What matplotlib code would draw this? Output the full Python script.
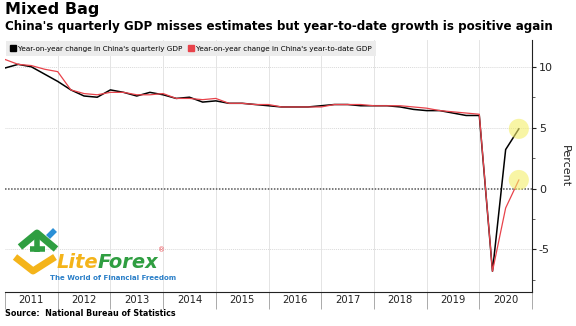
import numpy as np
import matplotlib
matplotlib.use("Agg")
import matplotlib.pyplot as plt
from matplotlib.lines import Line2D
from matplotlib import font_manager

# quarter end dates, 2010Q4 .. 2020Q3
quarters = ["2010Q4",
            "2011Q1", "2011Q2", "2011Q3", "2011Q4",
            "2012Q1", "2012Q2", "2012Q3", "2012Q4",
            "2013Q1", "2013Q2", "2013Q3", "2013Q4",
            "2014Q1", "2014Q2", "2014Q3", "2014Q4",
            "2015Q1", "2015Q2", "2015Q3", "2015Q4",
            "2016Q1", "2016Q2", "2016Q3", "2016Q4",
            "2017Q1", "2017Q2", "2017Q3", "2017Q4",
            "2018Q1", "2018Q2", "2018Q3", "2018Q4",
            "2019Q1", "2019Q2", "2019Q3", "2019Q4",
            "2020Q1", "2020Q2", "2020Q3"]

gdp_quarterly = [9.9,
                 10.2, 10.0, 9.4, 8.8,
                 8.1, 7.6, 7.5, 8.1,
                 7.9, 7.6, 7.9, 7.7,
                 7.4, 7.5, 7.1, 7.2,
                 7.0, 7.0, 6.9, 6.8,
                 6.7, 6.7, 6.7, 6.8,
                 6.9, 6.9, 6.8, 6.8,
                 6.8, 6.7, 6.5, 6.4,
                 6.4, 6.2, 6.0, 6.0,
                 -6.8, 3.2, 4.9]

gdp_ytd = [10.6,
           10.2, 10.1, 9.8, 9.6,
           8.1, 7.8, 7.7, 7.9,
           7.9, 7.7, 7.7, 7.8,
           7.4, 7.4, 7.3, 7.4,
           7.0, 7.0, 6.9, 6.9,
           6.7, 6.7, 6.7, 6.7,
           6.9, 6.9, 6.9, 6.8,
           6.8, 6.8, 6.7, 6.6,
           6.4, 6.3, 6.2, 6.1,
           -6.8, -1.6, 0.7]

years = list(range(2011, 2021))
highlights = [4.9, 0.7]  # values circled on the last quarter

BLACK = "black"
RED = "#e8434b"

names = {f.name for f in font_manager.fontManager.ttflist}
LEG_FONT = "Liberation Sans Narrow" if "Liberation Sans Narrow" in names else "DejaVu Sans"


def q_to_x(q):
    y, n = int(q[:4]), int(q[-1])
    return y + n * 0.25


x = np.array([q_to_x(q) for q in quarters])

W, H = 576, 326
fig = plt.figure(figsize=(W / 100, H / 100), dpi=100)
ax = fig.add_axes([5 / W, 1 - 292 / H, 527 / W, 252 / H])

ax.set_xlim(2011.0, 2021.0)
ax.set_ylim(-8.5, 12.2)

# grid
for v in [10, 5, -5]:
    ax.axhline(v, color="#d9d9d9", lw=0.7, ls=(0, (1, 1)), zorder=0)
ax.axhline(0, color="#555555", lw=1.1, ls=(0, (1, 1)), zorder=1)
for yr in years[1:]:
    ax.axvline(yr, color="#e4e4e4", lw=0.7, zorder=0)

ax.plot(x, gdp_quarterly, color=BLACK, lw=1.1, zorder=3)
ax.plot(x, gdp_ytd, color=RED, lw=0.9, zorder=4)

ax.scatter([x[-1]] * len(highlights), highlights, s=210, color="#f4ef6a",
           alpha=0.6, edgecolors="none", zorder=5)

# spines / ticks
ax.spines["top"].set_visible(False)
ax.spines["left"].set_visible(False)
ax.spines["right"].set_color("#222222")
ax.spines["bottom"].set_color("#222222")
ax.yaxis.tick_right()
ax.yaxis.set_label_position("right")
ax.set_yticks([-5, 0, 5, 10])
ax.set_yticklabels(["-5", "0", "5", "10"])
ax.set_yticks([-7.5, -2.5, 2.5, 7.5], minor=True)
ax.tick_params(axis="y", which="major", length=3, width=0.8, pad=2,
               labelsize=8, colors="#222222")
ax.tick_params(axis="y", which="minor", length=2, width=0.6, colors="#444444")
ax.set_ylabel("Percent", rotation=270, fontsize=8, labelpad=12, color="#222222")

ax.set_xticks(years + [2021])
ax.set_xticklabels([])
ax.set_xticks([y + 0.5 for y in years], minor=True)
ax.set_xticklabels([str(y) for y in years], minor=True)
ax.tick_params(axis="x", which="major", length=12, width=0.7, color="#aaaaaa")
ax.tick_params(axis="x", which="minor", length=0, pad=2, labelsize=7.2,
               colors="#222222")

handles = [Line2D([], [], ls="none", marker="s", ms=4.5, color=BLACK),
           Line2D([], [], ls="none", marker="s", ms=4.5, color=RED)]
labels = ["Year-on-year change in China's quarterly GDP",
          "Year-on-year change in China's year-to-date GDP"]
leg = ax.legend(handles, labels, loc="upper left", bbox_to_anchor=(0, 1),
                ncol=2, frameon=True, fancybox=False,
                prop={"family": LEG_FONT, "size": 6.1 if LEG_FONT != "DejaVu Sans" else 5.2},
                borderaxespad=0.2, handlelength=0.6, handletextpad=0.45,
                columnspacing=0.8, borderpad=0.6)
leg.get_frame().set_facecolor("#ececec")
leg.get_frame().set_edgecolor("none")
leg.get_frame().set_alpha(1)

# titles
fig.text(5 / W, 1 - 2 / H, "Mixed Bag", fontsize=11.5, fontweight="bold",
         va="top", ha="left")
fig.text(5 / W, 1 - 20 / H, "China's quarterly GDP misses estimates but year-to-date growth is positive again",
         fontsize=8.6, fontweight="bold", va="top", ha="left")
fig.text(5 / W, 1 - 313 / H, "Source:  National Bureau of Statistics",
         fontsize=5.8, fontweight="bold", va="center", ha="left")


# watermark logo
def px(xp, yp):
    return [v / W for v in xp], [1 - v / H for v in yp]


for xs, ys, col, lw in [
    ([15, 33, 55], [257, 271, 257], "#f4b41a", 5),
    ([20, 37, 56], [247, 233, 249], "#2f9e41", 5),
    ([30, 45], [249, 249], "#2f9e41", 4),
    ([37, 37], [236, 252], "#2f9e41", 4),
    ([48, 55], [237, 230], "#2a8fd6", 4),
]:
    xf, yf = px(xs, ys)
    fig.add_artist(Line2D(xf, yf, color=col, lw=lw, solid_capstyle="butt",
                          transform=fig.transFigure))

lite = fig.text(57 / W, 1 - 268 / H, "Lite", fontsize=14, fontweight="bold",
                style="italic", color="#f4b41a", va="baseline", ha="left")
fig.canvas.draw()
bb = lite.get_window_extent()
forex = fig.text((bb.x1 - 1) / W, 1 - 268 / H, "Forex", fontsize=14,
                 fontweight="bold", style="italic", color="#2f9e41",
                 va="baseline", ha="left")
fig.canvas.draw()
fb = forex.get_window_extent()
fig.text(fb.x1 / W, 1 - 250 / H, "®", fontsize=5, color=RED,
         va="center", ha="left")
fig.text(50 / W, 1 - 278 / H, "The World of Financial Freedom", fontsize=5,
         fontweight="bold", color="#2a7fc8", va="center", ha="left")

fig.savefig("out.png", dpi=100)
